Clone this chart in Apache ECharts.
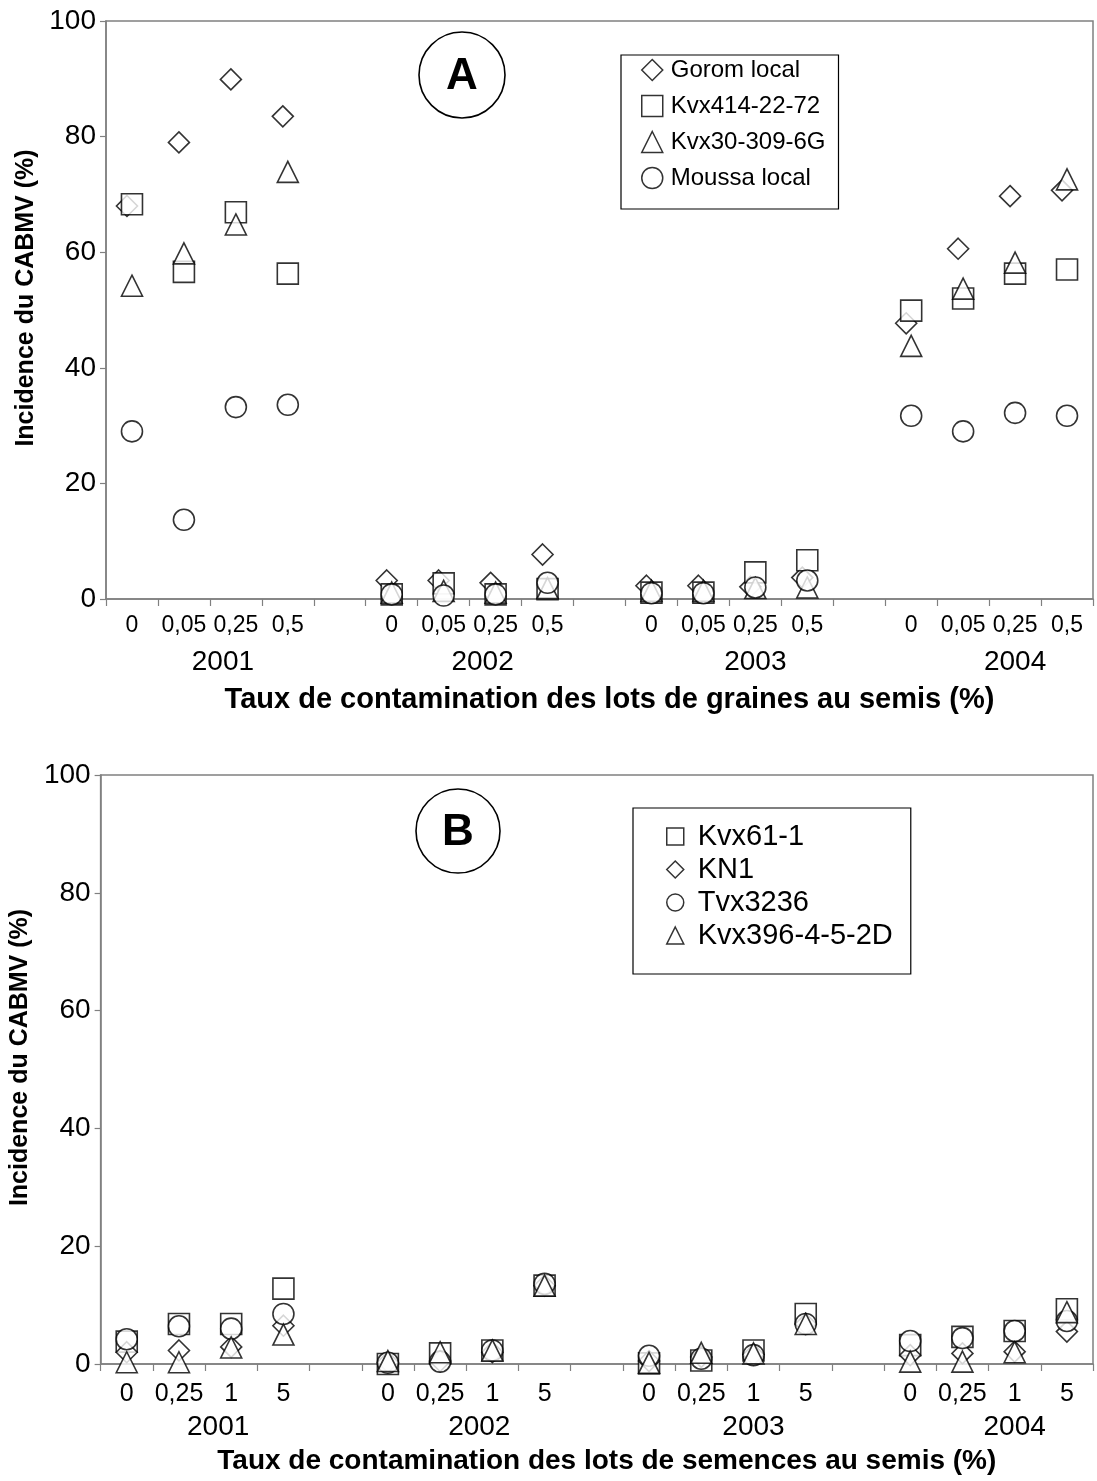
<!DOCTYPE html>
<html>
<head>
<meta charset="utf-8">
<script src="https://cdn.jsdelivr.net/npm/echarts@6/dist/echarts.min.js"></script>
<style>
  html, body { margin: 0; padding: 0; background: #fff; }
  #chart { width: 1097px; height: 1481px; }
</style>
</head>
<body>
<div id="chart"></div>
<script>
// ---------- data ----------
const years = ['2001', '2002', '2003', '2004'];
const ratesA = ['0', '0,05', '0,25', '0,5'];
const ratesB = ['0', '0,25', '1', '5'];

// Panel A (per year, per rate: 2001 x4, 2002 x4, 2003 x4, 2004 x4)
const goromLocal = [68.0, 79.0, 89.9, 83.5, 3.2, 3.2, 2.8, 7.7, 2.3, 2.3, 2.1, 3.7, 47.7, 60.6, 69.7, 70.7];
const kvx414_22_72 = [68.3, 56.6, 66.9, 56.3, 0.8, 2.7, 0.8, 1.7, 1.1, 1.1, 4.6, 6.7, 49.9, 52.0, 56.3, 57.0];
const kvx30_309_6G = [54.2, 59.8, 64.8, 73.9, 1.1, 1.4, 1.1, 1.9, 1.4, 1.4, 1.9, 2.0, 43.8, 53.7, 58.2, 72.6];
const moussaLocal = [29.0, 13.7, 33.2, 33.6, 0.8, 0.6, 0.8, 2.8, 1.0, 1.0, 2.0, 3.2, 31.7, 29.0, 32.2, 31.7];

// Panel B
const kvx61_1 = [3.8, 6.8, 6.8, 12.8, 0.0, 1.8, 2.3, 13.3, 0.1, 0.6, 2.3, 8.5, 3.2, 4.6, 5.6, 9.3];
const kn1 = [2.0, 2.3, 2.9, 6.5, 0.3, 0.5, 2.0, 13.3, 0.5, 1.2, 1.6, 6.8, 1.5, 1.8, 2.1, 5.5];
const tvx3236 = [4.2, 6.4, 6.0, 8.5, 0.2, 0.4, 2.3, 13.6, 1.4, 0.9, 1.5, 6.8, 3.9, 4.4, 5.6, 7.3];
const kvx396_4_5_2D = [0.3, 0.3, 2.8, 5.0, 0.5, 2.0, 2.3, 13.3, 0.2, 1.9, 1.8, 6.8, 0.4, 0.4, 2.0, 8.8];

const yTicks = [0, 20, 40, 60, 80, 100];

// ---------- helpers ----------
const FONT = 'Liberation Sans, Arial, sans-serif';
const AXIS_GRAY = '#808080';

function buildCategories(rates) {
  const cats = [];
  years.forEach((y, g) => {
    if (g > 0) cats.push('gap' + g);
    rates.forEach(r => cats.push(y + '|' + r));
  });
  return cats;
}
function toPoints(values, rates) {
  const pts = [];
  years.forEach((y, g) => {
    rates.forEach((r, i) => pts.push([y + '|' + r, values[g * rates.length + i]]));
  });
  return pts;
}
function catLabel(v) {
  const p = String(v).split('|');
  return p.length > 1 ? p[1] : '';
}
// year label placed under each group (slot units on a 0..19 value axis)
function yearFormatter(val) {
  for (let g = 0; g < years.length; g++) {
    const center = g * 5 + 2 + (g < 2 ? 0.25 : 0.5);
    if (Math.abs(val - center) < 1e-6) return years[g];
  }
  return '';
}

const catsA = buildCategories(ratesA);
const catsB = buildCategories(ratesB);

const markerStyle = { color: '#ffffff', borderColor: '#000000', borderWidth: 1.6 };

function scatter(name, symbol, values, rates, axisIdx, offset) {
  return {
    type: 'scatter',
    name: name,
    symbol: symbol,
    symbolSize: 21,
    symbolOffset: offset || [0, 0],
    xAxisIndex: axisIdx.x,
    yAxisIndex: axisIdx.y,
    data: toPoints(values, rates),
    itemStyle: markerStyle,
    emphasis: { disabled: true },
    silent: true
  };
}

function catAxis(gridIndex, cats, labelSize, labelMargin, title, titleGap, titleSize) {
  return {
    type: 'category',
    gridIndex: gridIndex,
    data: cats,
    boundaryGap: true,
    position: 'bottom',
    axisLine: { show: true, onZero: false, lineStyle: { color: AXIS_GRAY, width: 1.5 } },
    axisTick: { show: true, interval: 0, inside: false, length: 7, lineStyle: { color: AXIS_GRAY, width: 1.2 } },
    axisLabel: { interval: 0, formatter: catLabel, fontSize: labelSize, color: '#000', fontFamily: FONT, margin: labelMargin },
    splitLine: { show: false },
    name: title,
    nameLocation: 'middle',
    nameGap: titleGap,
    nameTextStyle: { fontSize: titleSize, fontWeight: 'bold', color: '#000', fontFamily: FONT, padding: [0, 0, 0, 20] }
  };
}
function yearAxis(gridIndex) {
  return {
    type: 'value',
    gridIndex: gridIndex,
    min: 0, max: 19, interval: 0.25,
    position: 'bottom',
    axisLine: { show: false },
    axisTick: { show: false },
    splitLine: { show: false },
    axisLabel: { formatter: yearFormatter, fontSize: 28, color: '#000', fontFamily: FONT, margin: 49, showMinLabel: true, showMaxLabel: true }
  };
}
function valAxis(gridIndex, nameGap) {
  return {
    type: 'value',
    gridIndex: gridIndex,
    min: yTicks[0], max: yTicks[yTicks.length - 1], interval: yTicks[1] - yTicks[0],
    axisLine: { show: true, lineStyle: { color: AXIS_GRAY, width: 1.5 } },
    axisTick: { show: true, inside: false, length: 6, lineStyle: { color: AXIS_GRAY, width: 1.2 } },
    axisLabel: { fontSize: 28, color: '#000', fontFamily: FONT, margin: 10 },
    splitLine: { show: false },
    name: 'Incidence du CABMV (%)',
    nameLocation: 'middle',
    nameRotate: 90,
    nameGap: nameGap,
    nameTextStyle: { fontSize: 25, fontWeight: 'bold', color: '#000', fontFamily: FONT, padding: [0, 0, 0, 24] }
  };
}

const option = {
  animation: false,
  backgroundColor: '#ffffff',
  grid: [
    { left: 106, top: 21, right: 4, height: 578, show: true, borderColor: AXIS_GRAY, borderWidth: 1.5, backgroundColor: '#fff' },
    { left: 97, top: 775, right: 4, height: 589, show: true, borderColor: AXIS_GRAY, borderWidth: 1.5, backgroundColor: '#fff' }
  ],
  xAxis: [
    catAxis(0, catsA, 23, 15, 'Taux de contamination des lots de graines au semis (%)', 86, 29),
    yearAxis(0),
    catAxis(1, catsB, 25, 18, 'Taux de contamination des lots de semences au semis (%)', 83, 28),
    yearAxis(1)
  ],
  yAxis: [valAxis(0, 53), valAxis(1, 44)],
  legend: [
    {
      left: 621, top: 55, orient: 'vertical',
      data: ['Gorom local', 'Kvx414-22-72', 'Kvx30-309-6G', 'Moussa local'],
      itemWidth: 21, itemHeight: 21, itemGap: 12,
      padding: [3, 13, 19, 20],
      borderColor: '#000', borderWidth: 1.2, backgroundColor: '#fff',
      itemStyle: { color: '#fff', borderColor: '#000', borderWidth: 1.5 },
      textStyle: { fontSize: 24, color: '#000', fontFamily: FONT, lineHeight: 24, padding: [0, 0, 0, 3] },
      selectedMode: false
    },
    {
      left: 633, top: 808, orient: 'vertical',
      data: ['Kvx61-1', 'KN1', 'Tvx3236', 'Kvx396-4-5-2D'],
      itemWidth: 17, itemHeight: 17, itemGap: 4,
      padding: [14, 18, 24, 33],
      borderColor: '#000', borderWidth: 1.2, backgroundColor: '#fff',
      itemStyle: { color: '#fff', borderColor: '#000', borderWidth: 1.5 },
      textStyle: { fontSize: 29, color: '#000', fontFamily: FONT, lineHeight: 28, padding: [0, 0, 0, 9] },
      selectedMode: false
    }
  ],
  graphic: [
    { type: 'circle', z: 100, shape: { cx: 462, cy: 75, r: 43 }, style: { fill: '#fff', stroke: '#000', lineWidth: 1.6 } },
    { type: 'text', z: 101, x: 462, y: 77, style: { text: 'A', fill: '#000', fontSize: 44, fontWeight: 'bold', fontFamily: FONT, align: 'center', verticalAlign: 'middle' } },
    { type: 'circle', z: 100, shape: { cx: 458, cy: 831, r: 42 }, style: { fill: '#fff', stroke: '#000', lineWidth: 1.6 } },
    { type: 'text', z: 101, x: 458, y: 833, style: { text: 'B', fill: '#000', fontSize: 44, fontWeight: 'bold', fontFamily: FONT, align: 'center', verticalAlign: 'middle' } }
  ],
  series: [
    scatter('Gorom local', 'diamond', goromLocal, ratesA, { x: 0, y: 0 }, [-5, 0]),
    scatter('Kvx414-22-72', 'rect', kvx414_22_72, ratesA, { x: 0, y: 0 }),
    scatter('Kvx30-309-6G', 'triangle', kvx30_309_6G, ratesA, { x: 0, y: 0 }),
    scatter('Moussa local', 'circle', moussaLocal, ratesA, { x: 0, y: 0 }),
    scatter('Kvx61-1', 'rect', kvx61_1, ratesB, { x: 2, y: 1 }),
    scatter('KN1', 'diamond', kn1, ratesB, { x: 2, y: 1 }),
    scatter('Tvx3236', 'circle', tvx3236, ratesB, { x: 2, y: 1 }),
    scatter('Kvx396-4-5-2D', 'triangle', kvx396_4_5_2D, ratesB, { x: 2, y: 1 })
  ]
};

const chart = echarts.init(document.getElementById('chart'), null, { renderer: 'canvas' });
chart.setOption(option);
</script>
</body>
</html>
